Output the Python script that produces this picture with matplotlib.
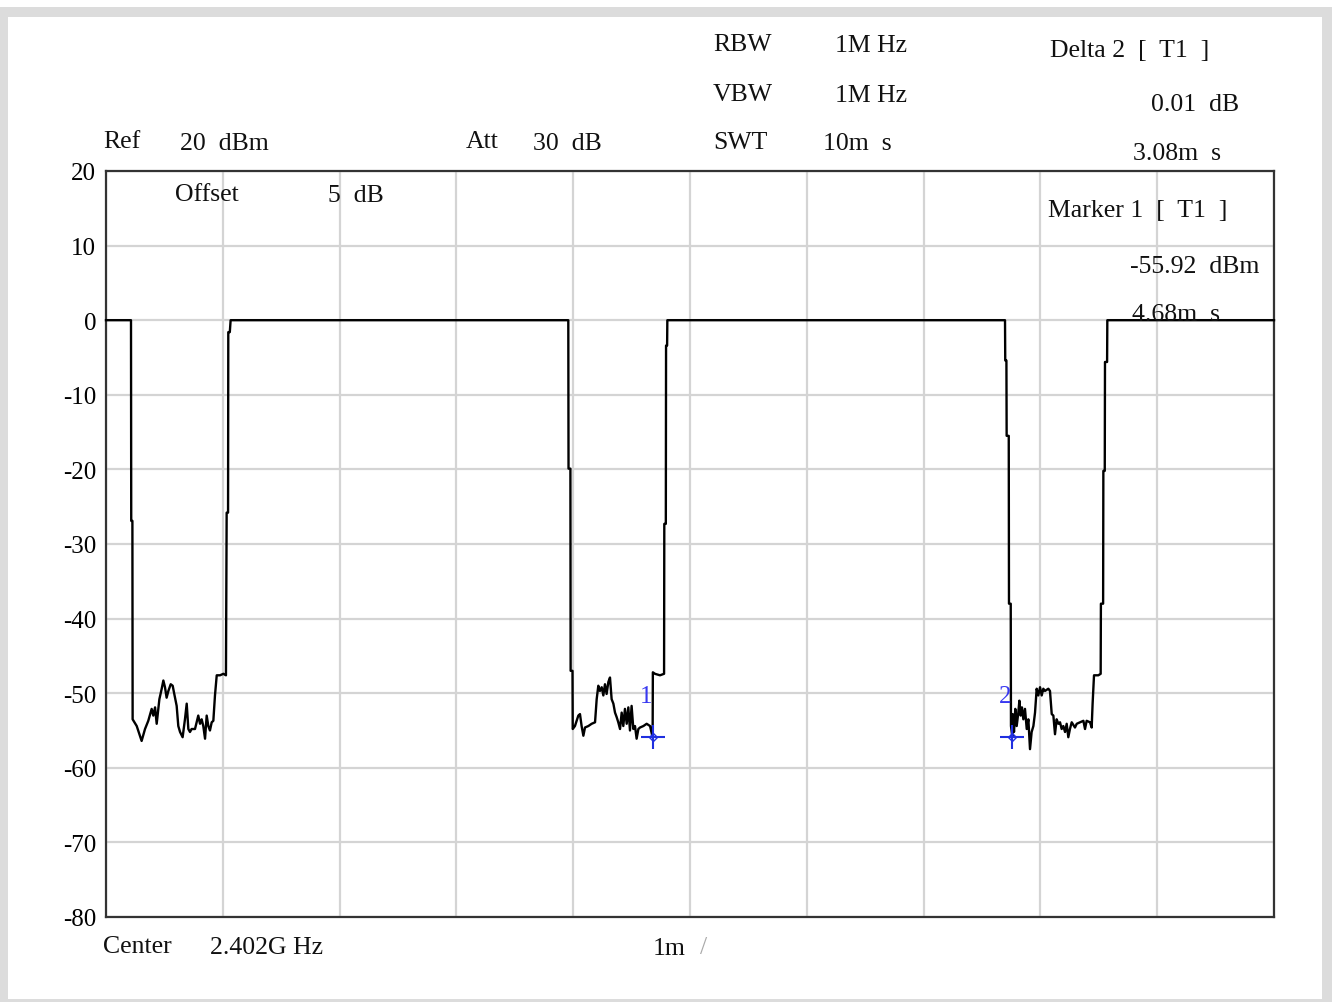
import numpy as np
import matplotlib.pyplot as plt
import matplotlib.patches as mpatches

# sweep time axis (ms) and level (dBm)
t_ms = [0.0, 0.214, 0.216, 0.226, 0.228, 0.263, 0.305, 0.334, 0.362, 0.391, 0.405, 0.420,
        0.434, 0.457, 0.477, 0.491, 0.505, 0.519, 0.534, 0.554, 0.571, 0.582, 0.605, 0.619,
        0.634, 0.656, 0.676, 0.691, 0.705, 0.719, 0.733, 0.762, 0.776, 0.790, 0.805, 0.819,
        0.833, 0.848, 0.862, 0.876, 0.890, 0.905, 0.919, 0.933, 0.948, 0.976, 1.005, 1.027,
        1.033, 1.045, 1.047, 1.060, 1.067,
        3.958, 3.960, 3.976, 3.978, 3.994, 3.996, 4.015, 4.044, 4.058, 4.072, 4.087, 4.101,
        4.130, 4.158, 4.187, 4.201, 4.215, 4.229, 4.244, 4.258, 4.272, 4.286, 4.301, 4.315,
        4.329, 4.344, 4.358, 4.372, 4.386, 4.401, 4.415, 4.429, 4.443, 4.458, 4.472, 4.486,
        4.500, 4.515, 4.529, 4.543, 4.558, 4.572, 4.601, 4.629, 4.658, 4.680, 4.682, 4.700,
        4.743, 4.778, 4.780, 4.793, 4.795, 4.804, 4.806,
        7.697, 7.699, 7.709, 7.711, 7.729, 7.731, 7.746, 7.748, 7.760, 7.763, 7.774, 7.785,
        7.797, 7.811, 7.820, 7.831, 7.842, 7.854, 7.868, 7.883, 7.897, 7.911, 7.925, 7.940,
        7.954, 7.968, 7.982, 7.997, 8.011, 8.025, 8.039, 8.068, 8.082, 8.097, 8.111, 8.125,
        8.139, 8.154, 8.168, 8.182, 8.196, 8.211, 8.225, 8.239, 8.253, 8.268, 8.296, 8.311,
        8.339, 8.368, 8.382, 8.396, 8.425, 8.439, 8.447, 8.459, 8.496, 8.516, 8.518, 8.537,
        8.539, 8.551, 8.553, 8.571, 8.573, 10.0]
level_dbm = [0.0, 0.0, -26.9, -26.9, -53.5, -54.4, -56.4, -54.8, -53.7, -52.1, -53.0, -51.9,
             -54.1, -50.8, -49.4, -48.3, -49.2, -50.6, -49.7, -48.8, -49.0, -49.9, -51.7, -54.4,
             -55.2, -55.9, -53.5, -51.4, -54.8, -55.2, -54.8, -54.8, -53.9, -53.0, -54.1, -53.5,
             -54.4, -56.1, -53.0, -54.4, -55.0, -53.9, -53.7, -50.3, -47.6, -47.6, -47.4, -47.6,
             -25.8, -25.8, -1.6, -1.6, 0.0,
             0.0, -19.9, -19.9, -47.0, -47.0, -54.8, -54.4, -53.0, -52.8, -54.4, -55.7, -54.6,
             -54.4, -54.1, -53.9, -50.8, -49.0, -49.7, -49.2, -50.3, -48.8, -50.1, -48.5, -47.9,
             -50.8, -51.4, -52.6, -53.2, -53.9, -54.8, -52.6, -54.4, -52.1, -54.1, -51.9, -55.0,
             -51.7, -54.8, -54.4, -56.1, -54.8, -54.6, -54.4, -54.1, -54.4, -55.92, -47.2, -47.4,
             -47.6, -47.4, -27.3, -27.3, -3.4, -3.4, 0.0,
             0.0, -5.4, -5.4, -15.5, -15.5, -38.0, -38.0, -54.4, -55.9, -52.8, -55.2, -52.1,
             -54.4, -52.6, -51.0, -53.0, -51.9, -53.5, -52.1, -54.8, -53.5, -57.5, -55.2, -54.4,
             -52.6, -49.4, -50.3, -49.2, -50.3, -49.4, -49.7, -49.4, -49.7, -52.8, -53.0, -55.5,
             -53.5, -54.1, -53.9, -54.8, -54.4, -55.2, -54.1, -55.9, -54.8, -53.9, -54.6, -54.1,
             -53.9, -53.7, -54.8, -53.7, -53.9, -54.6, -51.4, -47.6, -47.6, -47.4, -38.0, -38.0,
             -20.2, -20.2, -5.6, -5.6, 0.0, 0.0]

marker_names = ["1", "2"]
marker_t = [4.68, 7.76]
marker_db = [-55.92, -55.91]

y_ticks = [20, 10, 0, -10, -20, -30, -40, -50, -60, -70, -80]

W, H = 1332, 1003
fig = plt.figure(figsize=(W / 100, H / 100), dpi=100)
fig.patch.set_facecolor("white")
fig.patches.append(mpatches.Rectangle((0, 0), 1, 1 - 8 / H, transform=fig.transFigure,
                                      facecolor="#dcdcdc", edgecolor="none", zorder=-3))
fig.patches.append(mpatches.Rectangle((8 / W, 3 / H), 1314 / W, 982 / H, transform=fig.transFigure,
                                      facecolor="white", edgecolor="none", zorder=-2))

ax = fig.add_axes([106 / W, 1 - 918 / H, 1168 / W, 746 / H])
ax.set_facecolor("none")
ax.set_xlim(0, 10)
ax.set_ylim(-80, 20)
ax.set_xticks(np.arange(0, 11, 1))
ax.set_yticks(y_ticks)
ax.set_xticklabels([])
ax.set_yticklabels([str(v) for v in y_ticks], family="Liberation Serif", fontsize=18)
ax.tick_params(length=0, pad=7)
ax.grid(True, color="#d4d4d4", linewidth=1.6)
for s in ax.spines.values():
    s.set_color("#333333")
    s.set_linewidth(1.6)

ax.plot(t_ms, level_dbm, color="#000000", linewidth=1.7, zorder=3, clip_on=False)

for name, mt, mdb in zip(marker_names, marker_t, marker_db):
    ax.plot(mt, mdb, marker="+", markersize=17, markeredgewidth=1.5, color="#1f2fe0", zorder=4)
    ax.plot(mt, mdb, marker="D", markersize=4, markerfacecolor="none", markeredgewidth=1.0,
            color="#1f2fe0", zorder=4)
    ax.text(mt - 0.005, mdb + 5.5, name, color="#3838f0", fontsize=18, ha="right", va="center",
            family="Liberation Serif", zorder=4)

serif = "Liberation Serif"
fs = 18.5


def label(px, py, s, ha="left", color="#111111"):
    fig.text(px / W, 1 - py / H, s, ha=ha, va="center", fontsize=fs, family=serif, color=color)


label(713, 45, "RBW")
label(835, 46, "1M Hz")
label(713, 95, "VBW")
label(835, 96, "1M Hz")
label(713, 143, "SWT")
label(823, 144, "10m  s")
label(1050, 51, "Delta 2  [  T1  ]")
label(1239, 105, "0.01  dB", ha="right")
label(1221, 154, "3.08m  s", ha="right")
label(103, 142, "Ref")
label(180, 144, "20  dBm")
label(466, 142, "Att")
label(533, 144, "30  dB")
label(175, 195, "Offset")
label(328, 196, "5  dB")
label(1048, 211, "Marker 1  [  T1  ]")
label(1259, 267, "-55.92  dBm", ha="right")
label(1220, 315, "4.68m  s", ha="right")
label(103, 947, "Center")
label(210, 948, "2.402G Hz")
label(653, 949, "1m")
label(700, 948, "/", color="#aaaaaa")

fig.savefig("out.png", dpi=100, facecolor=fig.get_facecolor())
